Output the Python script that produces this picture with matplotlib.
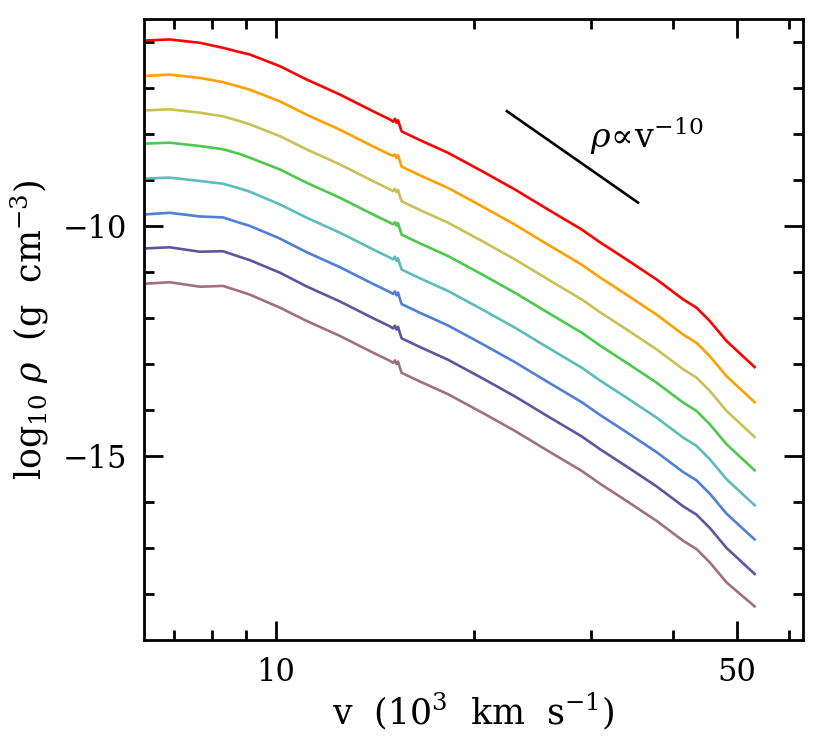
import math
import matplotlib
matplotlib.use("Agg")
import matplotlib.pyplot as plt
from matplotlib.ticker import FixedLocator, NullFormatter

plt.rcParams['font.family'] = ['DejaVu Serif']
plt.rcParams['mathtext.fontset'] = 'dejavuserif'

# velocity grid (10^3 km/s), shared by all profiles
v = [6.33, 6.9, 7.67, 8.31, 8.8, 9.13, 10.14, 11.13, 12.5, 14.03, 14.89,
     15.06, 15.15, 15.24, 15.32, 15.38, 15.51, 16.54, 18.23, 20.51, 23.03,
     25.85, 29.08, 30.98, 34.0, 37.77, 41.45, 43.43, 45.5, 48.24, 53.2]

# log10 rho profiles, top to bottom
rho_red = [-5.963, -5.940, -6.013, -6.122, -6.213, -6.267, -6.522, -6.811, -7.137, -7.500, -7.680,
           -7.730, -7.665, -7.750, -7.700, -7.780, -7.940, -8.130, -8.404, -8.800, -9.202,
           -9.637, -10.072, -10.348, -10.724, -11.159, -11.593, -11.774, -12.065, -12.500, -13.065]
rho_orange = [-6.733, -6.705, -6.778, -6.867, -6.968, -7.032, -7.287, -7.576, -7.902, -8.265, -8.445,
              -8.475, -8.440, -8.520, -8.455, -8.540, -8.705, -8.895, -9.169, -9.565, -9.967,
              -10.402, -10.837, -11.113, -11.489, -11.924, -12.358, -12.539, -12.830, -13.265, -13.830]
rho_yellow = [-7.483, -7.460, -7.533, -7.612, -7.713, -7.787, -8.042, -8.331, -8.657, -9.020, -9.200,
              -9.240, -9.190, -9.262, -9.215, -9.300, -9.460, -9.650, -9.924, -10.320, -10.722,
              -11.157, -11.592, -11.868, -12.244, -12.679, -13.113, -13.294, -13.585, -14.020, -14.585]
rho_green = [-8.205, -8.185, -8.258, -8.327, -8.428, -8.512, -8.767, -9.056, -9.382, -9.745, -9.925,
             -9.960, -9.915, -9.990, -9.935, -10.025, -10.185, -10.375, -10.649, -11.045, -11.447,
             -11.882, -12.317, -12.593, -12.969, -13.404, -13.838, -14.019, -14.310, -14.745, -15.310]
rho_cyan = [-8.965, -8.945, -9.018, -9.077, -9.178, -9.252, -9.527, -9.816, -10.142, -10.505, -10.685,
            -10.725, -10.665, -10.755, -10.700, -10.785, -10.945, -11.135, -11.409, -11.805, -12.207,
            -12.642, -13.077, -13.353, -13.729, -14.164, -14.598, -14.779, -15.070, -15.505, -16.070]
rho_blue = [-9.745, -9.710, -9.790, -9.810, -9.925, -9.995, -10.270, -10.566, -10.892, -11.255, -11.435,
            -11.475, -11.420, -11.505, -11.445, -11.535, -11.695, -11.885, -12.159, -12.555, -12.957,
            -13.392, -13.827, -14.103, -14.479, -14.914, -15.348, -15.529, -15.820, -16.255, -16.815]
rho_purple = [-10.485, -10.460, -10.557, -10.545, -10.665, -10.740, -11.012, -11.311, -11.637, -12.000, -12.180,
              -12.225, -12.165, -12.250, -12.190, -12.280, -12.440, -12.630, -12.904, -13.300, -13.702,
              -14.137, -14.572, -14.848, -15.224, -15.659, -16.093, -16.274, -16.565, -17.000, -17.565]
rho_mauve = [-11.252, -11.220, -11.318, -11.300, -11.413, -11.490, -11.772, -12.061, -12.387, -12.750, -12.930,
             -12.975, -12.920, -13.000, -12.945, -13.030, -13.190, -13.380, -13.654, -14.050, -14.452,
             -14.887, -15.322, -15.598, -15.974, -16.409, -16.843, -17.024, -17.315, -17.750, -18.270]

profiles = [rho_red, rho_orange, rho_yellow, rho_green, rho_cyan, rho_blue, rho_purple, rho_mauve]
colors = ['#ff0000', '#ffa000', '#c9c058', '#4cc84c', '#5cbcbc', '#4f7fd6', '#5f559e', '#a0707f']

# reference power law rho ~ v^-10
pl_v = [22.4, 35.4]
pl_rho0 = -7.5

fig = plt.figure(figsize=(8.3, 7.39), dpi=100)
ax = fig.add_axes([0.173, 0.134, 0.794, 0.840])

for rho, c in zip(profiles, colors):
    ax.plot(v, rho, color=c, lw=1.9)

pl_rho = [pl_rho0 - 10 * math.log10(x / pl_v[0]) for x in pl_v]
ax.plot(pl_v, pl_rho, color='black', lw=1.9)
ax.text(29.9, -8.30, r'$\rho\!\propto\!\mathrm{v}^{-10}$', fontsize=24, ha='left', va='baseline')

ax.set_xscale('log')
ax.set_xlim(6.3, 62.9)
ax.set_ylim(-19, -5.5)

ax.xaxis.set_major_locator(FixedLocator([10, 50]))
ax.xaxis.set_minor_locator(FixedLocator([7, 8, 9, 20, 30, 40, 60]))
ax.xaxis.set_minor_formatter(NullFormatter())
ax.set_xticklabels(['10', '50'])
ax.yaxis.set_major_locator(FixedLocator([-10, -15]))
ax.yaxis.set_minor_locator(FixedLocator(list(range(-18, -5))))
ax.set_yticklabels(['\u221210', '\u221215'])

ax.tick_params(which='both', direction='in', top=True, right=True, width=2, labelsize=22, pad=12)
ax.tick_params(which='major', length=14)
ax.tick_params(which='minor', length=7)
for s in ax.spines.values():
    s.set_linewidth(2)

ax.set_xlabel(r'$\mathrm{v\ \ (10^3\ \ km\ \ s^{-1})}$', fontsize=25, labelpad=2)
ax.set_ylabel(r'$\mathrm{log}_{10}\ \rho\ \ \mathrm{(g\ \ cm^{-3})}$', fontsize=25, labelpad=8)

fig.savefig('out.png', dpi=100)
